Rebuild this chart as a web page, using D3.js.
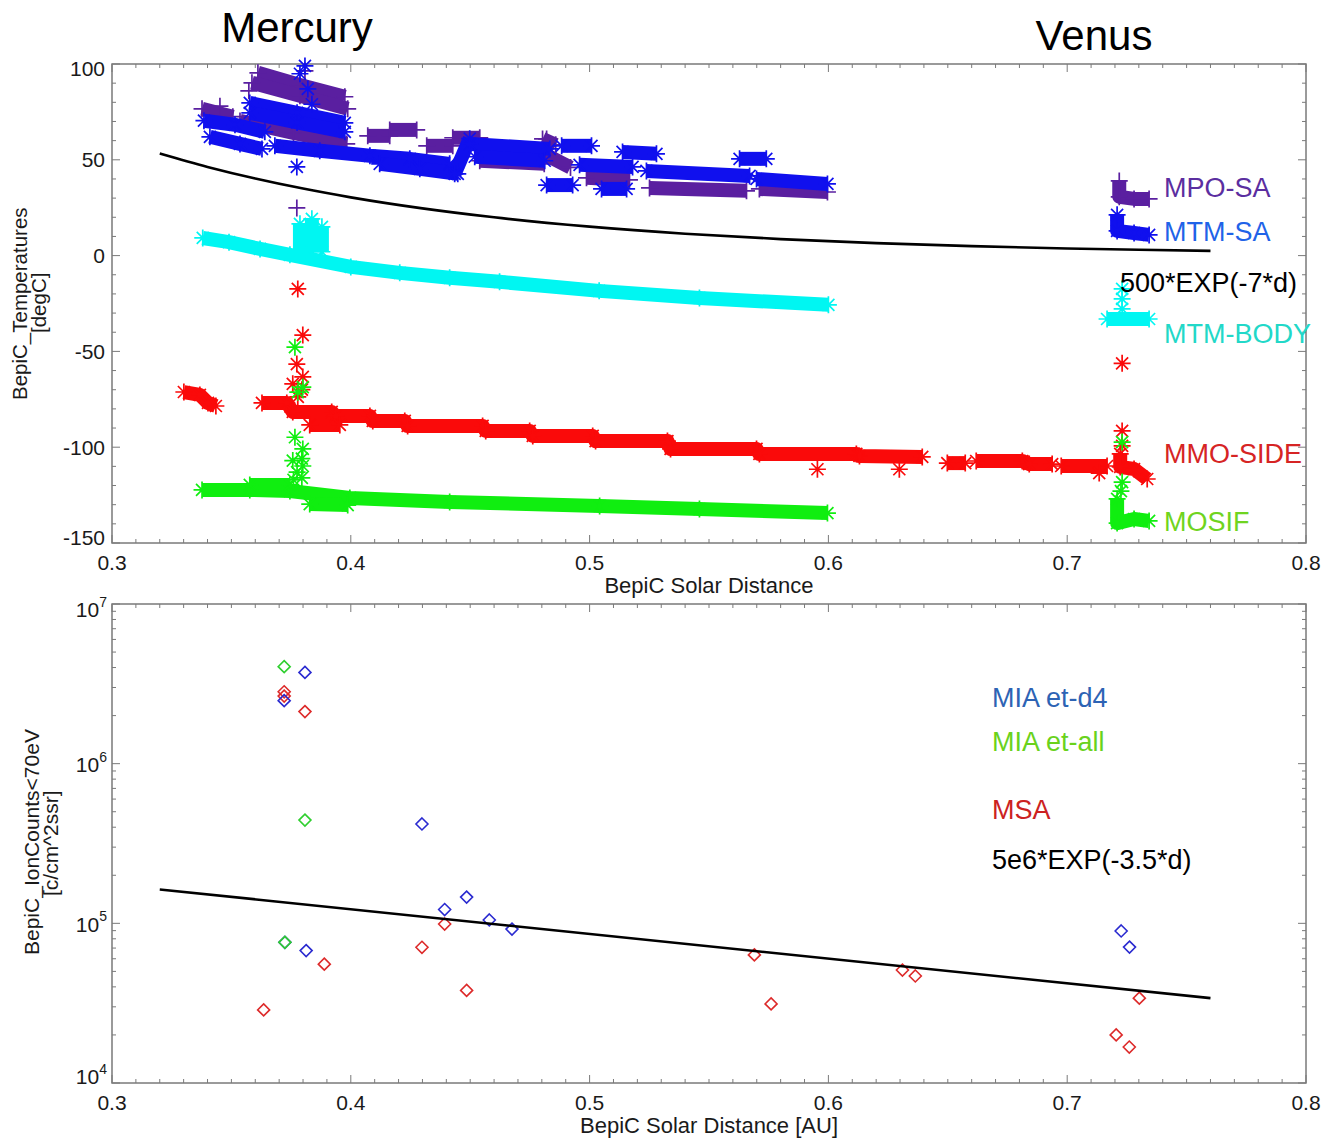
<!DOCTYPE html>
<html><head><meta charset="utf-8">
<script src="https://cdn.jsdelivr.net/npm/d3@7"></script>
<style>body{margin:0;background:#fff}text{font-family:"Liberation Sans",Arial,sans-serif}</style>
</head><body><svg id="c" width="1335" height="1139"></svg>
<script>
// ---------- text / ticks ----------
const xTickVals=[0.3,0.4,0.5,0.6,0.7,0.8];
const xTickLabels=["0.3","0.4","0.5","0.6","0.7","0.8"];
const tempTickVals=[-150,-100,-50,0,50,100];
const tempTickLabels=["-150","-100","-50","0","50","100"];
const ionTickExps=[4,5,6,7];
const topTitles=["Mercury","Venus"];
const tempLegend=["MPO-SA","MTM-SA","500*EXP(-7*d)","MTM-BODY","MMO-SIDE","MOSIF"];
const ionLegend=["MIA et-d4","MIA et-all","MSA","5e6*EXP(-3.5*d)"];

// ---------- top panel: temperatures [d (AU), T (degC)] ----------
const mpoRuns=[
 [[0.3611,95.4],[0.3787,89.1],[0.3975,82.9]],
 [[0.3586,90.2],[0.3787,83.4],[0.3987,76.6]],
 [[0.3377,76.6],[0.3506,72.5]],
 [[0.3536,70.3],[0.376,64],[0.3983,58.3]],
 [[0.4071,62.5],[0.4163,62.5]],
 [[0.4163,65.6],[0.4276,65.6]],
 [[0.4318,57.3],[0.4427,57.3]],
 [[0.4427,61.5],[0.454,61.5]],
 [[0.454,49.5],[0.481,47.9]],
 [[0.4803,60.9],[0.4858,57.8]],
 [[0.481,53],[0.492,46]],
 [[0.4987,40.6],[0.5167,39.5]],
 [[0.5251,35.3],[0.5657,33.8]],
 [[0.5711,34.8],[0.5996,33.2]],
 [[0.7218,39],[0.7218,30.7],[0.728,29.6],[0.7343,29.6]]
];
const mpoPts=[[0.3573,86],[0.3774,24.9],[0.482,60.9],[0.3452,78],[0.3808,96.4]];

const mtmRuns=[
 [[0.3385,70.4],[0.3515,68.3],[0.364,64.6]],
 [[0.341,62.0],[0.3536,58.3],[0.3628,55.7]],
 [[0.3577,79.7],[0.3775,74.5],[0.3975,69.3]],
 [[0.3577,74.5],[0.3775,69.5],[0.3975,64.6]],
 [[0.3682,57.3],[0.387,54.7],[0.408,52.1],[0.4247,50.5],[0.4414,47.9]],
 [[0.4121,47.9],[0.4289,45.3],[0.4448,42.7]],
 [[0.4435,42.7],[0.4498,61.0]],
 [[0.4498,58.3],[0.4833,55.7]],
 [[0.4519,51.6],[0.4812,49.5]],
 [[0.482,36.8],[0.4929,36.8]],
 [[0.4883,57.3],[0.5008,57.3]],
 [[0.4958,47.4],[0.518,46.3]],
 [[0.505,34.8],[0.5155,34.8]],
 [[0.5138,54.1],[0.528,53.1]],
 [[0.5238,44.2],[0.567,41.6]],
 [[0.5628,50.5],[0.574,50.5]],
 [[0.5699,40.0],[0.5996,37.4]],
 [[0.7209,21.3],[0.7209,12.9],[0.728,11.8],[0.7343,10.8]]
];
const mtmPts=[[0.3774,46.3],[0.3808,99],[0.3787,94.9],[0.382,87],[0.3837,79]];

const bodyRuns=[
 [[0.338,9.2],[0.349,7],[0.362,3.5],[0.3745,0.4],[0.4,-5.9],[0.4205,-9.0],[0.4414,-11.6],[0.4623,-13.7],[0.504,-18.4],[0.546,-22.1],[0.6,-25.7]],
 [[0.3787,16.6],[0.3787,2]],
 [[0.3837,19.2],[0.3837,2]],
 [[0.3879,15],[0.3879,2]],
 [[0.7167,-33.1],[0.7343,-33.1]]
];
const bodyPts=[[0.723,-17.4],[0.723,-22.6],[0.723,-27.8]];

const mmoRuns=[
 [[0.3301,-71.2],[0.3368,-72.7],[0.3402,-76.9],[0.3435,-78.5]],
 [[0.3628,-76.9],[0.3732,-76.9],[0.3757,-81.6],[0.392,-81.6],[0.3937,-83.7],[0.408,-83.7],[0.4092,-86.3],[0.4226,-86.3],[0.4238,-88.9],[0.4552,-88.9],[0.4565,-91.5],[0.4749,-91.5],[0.4762,-94.1],[0.5013,-94.1],[0.5025,-96.8],[0.5326,-96.8],[0.5339,-100.9],[0.5699,-100.9],[0.5711,-103.5],[0.6117,-103.5],[0.613,-104.6],[0.6393,-105.1]],
 [[0.3828,-88.4],[0.3954,-88.4]],
 [[0.6498,-108.3],[0.6573,-108.3]],
 [[0.6619,-107.2],[0.6812,-107.2],[0.6841,-108.8],[0.6937,-108.8]],
 [[0.6975,-109.8],[0.7167,-109.8]],
 [[0.7222,-103.5],[0.7222,-110.3],[0.728,-111.4],[0.7335,-116.6]]
];
const mmoPts=[[0.3778,-17.4],[0.3799,-41.5],[0.3774,-56.6],[0.3799,-63.3],[0.3757,-66.9],[0.3795,-70],[0.3778,-73.7],
 [0.5954,-111.5],[0.6297,-111.5],[0.7134,-113.5],[0.723,-56.2],[0.723,-91.5],[0.723,-99.3]];

const mosifRuns=[
 [[0.3377,-122.3],[0.3577,-122.3],[0.3745,-122.9],[0.3996,-126.5],[0.4414,-128.6],[0.5042,-130.7],[0.546,-132.3],[0.5996,-134.4]],
 [[0.3577,-119.7],[0.3745,-119.7]],
 [[0.3828,-129.7],[0.3987,-130.2]],
 [[0.7209,-127],[0.7209,-139.6],[0.728,-137.5],[0.7343,-138.5]]
];
const mosifPts=[[0.3766,-47.8],[0.3799,-68.6],[0.3778,-71.3],[0.3766,-94.8],[0.3799,-100.9],[0.3795,-106],[0.3757,-107],
 [0.3799,-109.8],[0.3775,-113],[0.3795,-116],[0.376,-117],[0.723,-97.3],[0.723,-118.2],[0.7225,-122.9]];

const tempFit=[[0.32,53.23],[0.34,46.28],[0.36,40.23],[0.38,34.97],[0.40,30.40],[0.43,24.64],[0.46,19.98],[0.50,15.10],
 [0.54,11.41],[0.58,8.62],[0.62,6.52],[0.66,4.93],[0.70,3.72],[0.73,3.02],[0.76,2.45]];

// ---------- bottom panel: ion counts [d (AU), counts] ----------
const miaD4=[[0.3808,3.73e6],[0.3721,2.48e6],[0.4298,4.19e5],[0.4485,1.46e5],[0.4393,1.22e5],[0.458,1.05e5],[0.4675,9.2e4],
 [0.3724,7.6e4],[0.3813,6.75e4],[0.7226,8.96e4],[0.7261,7.1e4]];
const miaAll=[[0.3721,4.05e6],[0.3808,4.43e5],[0.3724,7.6e4]];
const msa=[[0.3721,2.82e6],[0.3721,2.65e6],[0.3808,2.12e6],[0.4393,9.9e4],[0.3889,5.55e4],[0.4298,7.08e4],[0.4485,3.8e4],
 [0.3635,2.87e4],[0.569,6.34e4],[0.576,3.13e4],[0.631,5.1e4],[0.6364,4.68e4],[0.7302,3.4e4],[0.7205,2.0e4],[0.726,1.68e4]];
const ionFit=[[0.32,1.63e5],[0.76,3.4e4]];

// ---------- drawing ----------
const svg=d3.select("#c");
const L=112,R=1306;
const x=d3.scaleLinear([0.3,0.8],[L,R]);
const yT=d3.scaleLinear([-150,100],[543,64]);
const yB=d3.scaleLog([1e4,1e7],[1083,604]);
const frameCol="#7a7a7a", labCol="#1a1a1a";

function frame(yScale,top,bottom,yMajor,yMinor){
  const g=svg.append("g");
  const xMinor=d3.range(0.3,0.80001,0.01);
  xMinor.forEach(v=>{const mj=xTickVals.some(t=>Math.abs(t-v)<1e-6);const len=mj?8:4;
    g.append("line").attr("x1",x(v)).attr("x2",x(v)).attr("y1",bottom).attr("y2",bottom-len).attr("stroke",frameCol);
    g.append("line").attr("x1",x(v)).attr("x2",x(v)).attr("y1",top).attr("y2",top+len).attr("stroke",frameCol);});
  yMinor.forEach(v=>{const mj=yMajor.includes(v);const len=mj?8:4;const yy=yScale(v);
    g.append("line").attr("x1",L).attr("x2",L+len).attr("y1",yy).attr("y2",yy).attr("stroke",frameCol);
    g.append("line").attr("x1",R).attr("x2",R-len).attr("y1",yy).attr("y2",yy).attr("stroke",frameCol);});
  g.append("rect").attr("x",L).attr("y",top).attr("width",R-L).attr("height",bottom-top)
    .attr("fill","none").attr("stroke",frameCol).attr("stroke-width",1.5);
  g.selectAll(null).data(xTickVals).join("text").attr("x",d=>x(d)).attr("y",bottom+20).attr("dy","0.35em")
    .attr("text-anchor","middle").attr("font-size",21).attr("fill",labCol).text((d,i)=>xTickLabels[i]);
  return g;
}
const ast="M-8.5,0H8.5M0,-8.5V8.5M-6,-6L6,6M-6,6L6,-6";
const plus="M-8.5,0H8.5M0,-8.5V8.5";
const diamond="M0,-6L6,0L0,6L-6,0Z";

// top panel
frame(yT,64,543,tempTickVals,d3.range(-150,101,10));
svg.append("g").selectAll(null).data(tempTickVals).join("text")
  .attr("x",105).attr("y",(d,i)=>yT(d)+(i===0?-5:i===tempTickVals.length-1?5:0)).attr("dy","0.35em")
  .attr("text-anchor","end").attr("font-size",21).attr("fill",labCol).text((d,i)=>tempTickLabels[i]);

const gT=svg.append("g");
function series(runs,pts,color,marker){
  const line=d3.line().x(d=>x(d[0])).y(d=>yT(d[1]));
  gT.append("g").selectAll(null).data(runs).join("path").attr("d",line).attr("fill","none")
    .attr("stroke",color).attr("stroke-width",14).attr("stroke-linejoin","round");
  gT.append("g").selectAll(null).data(runs.flat().concat(pts)).join("path")
    .attr("transform",d=>`translate(${x(d[0])},${yT(d[1])})`).attr("d",marker)
    .attr("stroke",color).attr("stroke-width",1.7).attr("fill","none");
}
series(mpoRuns,mpoPts,"#5a1fa0",plus);
series(mtmRuns,mtmPts,"#1010ee",ast);
series(bodyRuns,bodyPts,"#00f6f2",ast);
series(mmoRuns,mmoPts,"#fa0a0a",ast);
series(mosifRuns,mosifPts,"#10ee10",ast);
gT.append("path").datum(tempFit).attr("d",d3.line().x(d=>x(d[0])).y(d=>yT(d[1])).curve(d3.curveMonotoneX))
  .attr("fill","none").attr("stroke","#000").attr("stroke-width",2.6);

// titles
svg.append("text").attr("x",297).attr("y",42).attr("text-anchor","middle").attr("font-size",42).text(topTitles[0]);
svg.append("text").attr("x",1094).attr("y",50).attr("text-anchor","middle").attr("font-size",42).text(topTitles[1]);

// top legend
const tl=[[1164,188,"#5b2ea0"],[1164,232,"#1f63e8"],[1120,283,"#000"],[1164,334,"#22d8c8"],[1164,454,"#d62424"],[1164,522,"#6fd420"]];
tempLegend.forEach((t,i)=>svg.append("text").attr("x",tl[i][0]).attr("y",tl[i][1]).attr("dy","0.35em")
  .attr("font-size",27).attr("fill",tl[i][2]).text(t));

// axis titles top
svg.append("text").attr("x",709).attr("y",585).attr("dy","0.35em").attr("text-anchor","middle").attr("font-size",22).attr("fill",labCol).text("BepiC Solar Distance");
svg.append("g").attr("transform","translate(20,400) rotate(-90)").append("text").attr("dy","0.35em").attr("font-size",20.5).attr("fill",labCol).text("BepiC_Temperatures");
svg.append("g").attr("transform","translate(39,333) rotate(-90)").append("text").attr("dy","0.35em")
  .attr("font-size",20.5).attr("fill",labCol).text("[degC]");

// bottom panel
const logMinor=[];ionTickExps.forEach(e=>{for(let m=1;m<10;m++){const v=m*Math.pow(10,e);if(v<=1e7)logMinor.push(v);}});
frame(yB,604,1083,ionTickExps.map(e=>Math.pow(10,e)),logMinor);
ionTickExps.forEach((e,i)=>{
  const yy=yB(Math.pow(10,e))+(i===0?-6:i===ionTickExps.length-1?6:1);
  const t=svg.append("text").attr("x",107).attr("y",yy).attr("dy","0.35em").attr("text-anchor","end").attr("font-size",21).attr("fill",labCol);
  t.append("tspan").text("10");
  t.append("tspan").attr("font-size",14).attr("dy","-0.75em").text(String(e));
});
const gB=svg.append("g");
function diam(data,color){
  gB.append("g").selectAll(null).data(data).join("path").attr("transform",d=>`translate(${x(d[0])},${yB(d[1])})`)
    .attr("d",diamond).attr("fill","none").attr("stroke",color).attr("stroke-width",1.6);
}
diam(msa,"#dd2a2a");
diam(miaD4,"#2a2ad0");
diam(miaAll,"#2fcf2f");
gB.append("path").datum(ionFit).attr("d",d3.line().x(d=>x(d[0])).y(d=>yB(d[1])))
  .attr("fill","none").attr("stroke","#000").attr("stroke-width",2.6);

const bl=[[992,698,"#2d63b4"],[992,742,"#6ad21c"],[992,810,"#cc2222"],[992,860,"#000"]];
ionLegend.forEach((t,i)=>svg.append("text").attr("x",bl[i][0]).attr("y",bl[i][1]).attr("dy","0.35em")
  .attr("font-size",27).attr("fill",bl[i][2]).text(t));

svg.append("text").attr("x",709).attr("y",1125).attr("dy","0.35em").attr("text-anchor","middle").attr("font-size",22).attr("fill",labCol).text("BepiC Solar Distance [AU]");
svg.append("g").attr("transform","translate(32,955) rotate(-90)").append("text").attr("dy","0.35em")
  .attr("font-size",21).attr("fill",labCol).text("BepiC_IonCounts<70eV");
svg.append("g").attr("transform","translate(51,896) rotate(-90)").append("text").attr("dy","0.35em")
  .attr("font-size",21).attr("fill",labCol).text("[c/cm^2ssr]");
</script></body></html>
